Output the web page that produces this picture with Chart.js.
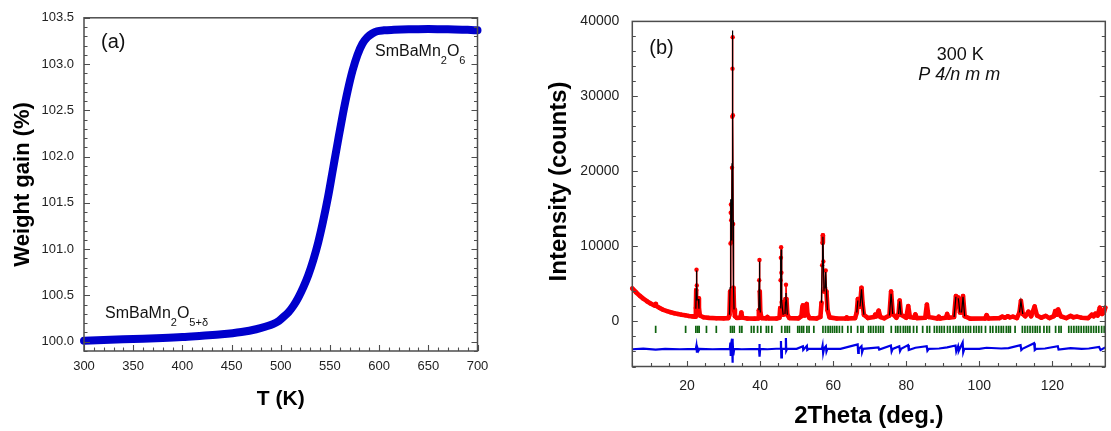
<!DOCTYPE html>
<html>
<head>
<meta charset="utf-8">
<script src="https://cdn.jsdelivr.net/npm/chart.js@4.4.1/dist/chart.umd.min.js"></script>
<style>
body{margin:0;background:#fff;}
#wrapA{position:absolute;left:0;top:0;width:540px;height:431px;}
#wrapB{position:absolute;left:540px;top:0;width:571px;height:431px;}
</style>
</head>
<body>
<div id="wrapA"><canvas id="chartTGA"></canvas></div>
<div id="wrapB"><canvas id="chartXRD"></canvas></div>
<script>
var FONT="'Liberation Sans', Arial, sans-serif";

// (a) weight gain vs temperature
var tempK=[300,320,350,380,400,420,440,460,475,485,492,498,503,508,513,518,523,528,533,538,543,548,553,558,563,568,573,578,583,588,593,598,605,615,630,650,670,690,700];
var weightGain=[100.01,100.02,100.03,100.04,100.05,100.065,100.08,100.105,100.135,100.165,100.19,100.225,100.27,100.32,100.39,100.48,100.59,100.72,100.88,101.07,101.30,101.56,101.86,102.16,102.45,102.71,102.93,103.10,103.22,103.29,103.33,103.355,103.365,103.37,103.375,103.38,103.375,103.37,103.365];
var wgTicks=[100.0,100.5,101.0,101.5,102.0,102.5,103.0,103.5];
var tempTicks=[300,350,400,450,500,550,600,650,700];

// (b) XRD pattern, observed / calculated on the same 2theta points
var twoTheta=[5.0,6.0,7.0,8.0,9.0,10.0,11.0,11.35,11.45,11.6,12.5,13.5,14.5,15.5,16.5,17.5,18.5,19.5,20.5,21.5,
22.2,22.4,22.5,22.58,22.66,22.78,22.95,23.1,23.25,23.5,24.5,26.0,28.0,30.0,31.3,31.6,31.78,31.88,31.95,32.0,
32.08,32.2,32.3,32.38,32.43,32.48,32.54,32.6,32.7,32.85,33.1,33.6,34.6,34.85,35.1,36.5,38.5,39.5,39.65,39.75,
39.82,39.9,40.05,40.4,41.7,42.0,42.3,44.5,45.3,45.5,45.6,45.68,45.74,45.82,45.95,46.3,46.8,46.95,47.08,47.2,
47.45,48.0,50.5,51.3,51.55,51.7,51.9,52.2,52.55,52.75,52.95,53.5,55.5,56.5,56.8,56.98,57.1,57.18,57.3,57.5,
57.75,57.95,58.15,58.45,59.0,61.0,63.4,63.7,64.0,66.0,66.45,66.75,66.95,67.35,67.75,68.0,68.4,69.5,71.2,71.5,
71.85,72.45,72.9,74.0,75.4,75.85,76.3,77.3,77.9,78.2,78.55,80.0,80.55,81.0,82.1,82.5,82.9,85.2,85.65,86.1,
88.5,88.9,89.3,90.8,91.2,91.6,93.1,93.6,93.9,94.25,94.7,95.15,95.55,96.0,97.5,101.6,102.0,102.5,105.5,106.3,
107.0,107.8,108.4,109.2,110.3,111.0,111.4,111.9,112.6,113.45,114.2,115.15,115.8,117.0,118.2,119.2,120.4,120.8,121.2,121.6,
122.3,123.8,125.0,125.8,126.8,128.0,129.8,130.8,131.3,131.8,132.4,133.0,133.6,134.1,134.5];
var yObs=[4400,3900,3450,3050,2700,2400,2150,2100,2350,2050,1800,1550,1380,1230,1100,1000,900,820,740,680,
640,1800,4200,6900,4800,2900,2400,3100,1800,800,560,480,440,420,450,900,4000,10400,14500,15600,
13500,10600,20500,27300,33700,37900,27500,13000,4500,1600,700,480,520,1200,520,400,380,420,1500,5500,
8200,4000,1200,450,420,600,420,400,500,1800,5500,8500,9900,6500,2600,900,1000,3000,4900,3000,
900,450,420,700,1900,2150,1200,800,2000,2350,1000,450,400,600,2500,7500,10500,11500,8000,4000,
4500,6800,4000,1500,550,400,400,550,400,450,1200,3000,2200,2000,4500,2600,900,450,600,900,
700,1450,600,420,800,4000,1000,500,1000,2800,900,500,2050,600,500,950,450,500,2250,600,
400,650,400,500,1000,500,600,3400,2500,3200,1200,1200,3400,700,380,400,850,400,450,650,
500,700,550,650,450,1200,2750,1000,700,1300,700,2000,800,500,750,450,700,1400,900,1600,
700,450,750,550,650,500,450,900,700,1050,800,1850,1000,1200,1850];
var yCalc=[4350,3900,3450,3050,2700,2400,2150,2100,2300,2050,1800,1550,1380,1230,1100,1000,900,820,740,680,
640,1700,4300,6800,5000,2800,2500,3000,1700,800,560,480,440,420,450,900,4500,11000,15000,16300,
13500,10800,21000,28000,34500,38800,28000,13500,4800,1600,700,480,520,1150,520,400,380,420,1500,5500,
8000,4200,1200,450,420,580,420,400,500,1800,5600,8700,9600,6800,2700,900,1000,2600,3800,2900,
900,450,420,700,1850,2100,1200,800,2000,2300,1000,450,400,600,2500,7400,10400,11300,8200,4000,
4400,6600,4100,1500,550,400,400,550,400,450,1200,2800,2200,2000,4300,2600,900,450,600,900,
700,1400,600,420,800,3700,1000,500,1000,2700,900,500,2000,600,500,950,450,500,2200,600,
400,650,400,500,1000,500,600,3300,2500,3100,1200,1200,3300,700,380,400,850,400,450,650,
500,700,550,650,450,1200,2700,1000,700,1250,700,1950,800,500,750,450,700,1350,900,1550,
700,450,750,550,650,500,450,900,700,1050,800,1800,1000,1200,1800];

// difference curve (shifted below zero in the plot)
var diffTheta=[5,8,11.4,14,18,22.4,22.55,22.7,22.9,23.1,23.4,27,31.7,31.85,31.95,32.05,32.3,32.42,32.52,32.65,
32.9,35,39.7,39.8,39.88,40.0,42,45.6,45.7,45.8,45.95,46.9,47.05,47.15,47.4,50,51.7,51.8,52.8,52.9,
53.3,56.9,57.1,57.25,57.5,58.0,58.15,58.4,62,66.7,66.85,67.0,67.75,67.9,68.2,72.4,72.6,75.8,76.0,76.3,
78.1,78.3,78.6,80.5,80.7,82.5,85.6,85.8,86.2,89,91.2,93.5,93.7,94.2,94.4,95.45,95.6,95.9,100,102,
106,108,111.3,111.5,111.8,115.0,115.2,115.6,118,121.5,121.7,125,128,130,132.8,133.2,134.5];
var yDiff=[-3700,-3620,-3750,-3650,-3700,-3650,-3250,-4150,-3600,-3900,-3650,-3700,-3650,-2800,-4600,-3000,-2300,-5500,-2600,-4500,
-3650,-3700,-3650,-3000,-4700,-3650,-3700,-3600,-2600,-4800,-3650,-3650,-2200,-3900,-3650,-3650,-3300,-3800,-3250,-3800,
-3650,-3650,-3200,-4200,-3600,-3300,-4000,-3650,-3650,-3050,-4200,-3650,-3300,-4100,-3650,-3450,-3750,-3200,-4000,-3650,
-3300,-3950,-3650,-3150,-3800,-3500,-3300,-3900,-3650,-3600,-3450,-3200,-4000,-3300,-3900,-2800,-4100,-3650,-3650,-3500,
-3600,-3550,-3150,-3800,-3650,-2900,-3800,-3650,-3600,-3300,-3750,-3550,-3650,-3600,-3400,-3800,-3450];

// Bragg reflection positions
var braggPos=[11.4,19.6,22.4,22.9,23.3,25.3,28.0,31.9,32.4,32.9,34.4,35.0,37.6,38.3,39.3,40.2,41.7,42.3,43.2,45.9,
46.8,47.4,48.0,50.3,50.8,51.4,51.9,52.8,53.4,54.7,57.2,57.9,58.6,59.2,59.8,60.4,61.0,61.7,62.5,64.0,
64.9,66.7,67.6,68.2,69.7,70.3,71.0,71.7,72.4,73.0,73.7,75.9,77.1,77.7,78.4,79.2,79.8,80.4,81.0,82.0,
82.9,84.5,85.7,86.4,87.7,88.4,89.1,89.7,90.4,91.3,92.0,92.9,93.6,94.3,94.8,95.6,96.3,97.0,97.6,98.5,
99.2,99.9,100.6,101.7,103.0,103.7,104.6,105.3,106.0,106.6,107.4,108.0,108.5,109.8,111.8,112.5,113.2,113.9,114.6,115.3,
115.9,116.6,117.7,118.5,119.2,120.9,121.8,122.4,124.5,125.2,125.9,126.6,127.2,127.9,128.6,129.3,129.9,130.6,131.3,132.0,
132.7,133.5,134.2];
var braggLevel=-1050;
var intTicks=[0,10000,20000,30000,40000];
var thetaTicks=[20,40,60,80,100,120];

function toPoints(xs,ys){
	var out=new Array();
	for(var i=0;i<xs.length;i++){
		out.push({x:xs[i],y:ys[i]});
	}
	return out;
}

function isMajor(v,list,step){
	for(var i=0;i<list.length;i++){
		if(Math.abs(list[i]-v)<step/10) return true;
	}
	return false;
}

// box frame with inward ticks on left, right and bottom
function frameTicks(minorX,minorY,majX,majY,lenMaj,lenMin){
	return {
		id:'frameTicks',
		afterDatasetsDraw:function(chart){
			var ctx=chart.ctx, a=chart.chartArea, sx=chart.scales.x, sy=chart.scales.y;
			ctx.save();
			ctx.strokeStyle='#4d4d4d';
			ctx.lineWidth=1.5;
			ctx.strokeRect(a.left,a.top,a.right-a.left,a.bottom-a.top);
			ctx.lineWidth=1.1;
			ctx.beginPath();
			var n, v, p, L;
			for(n=Math.ceil(sx.min/minorX-1e-6);n<=Math.floor(sx.max/minorX+1e-6);n++){
				v=n*minorX;
				p=Math.round(sx.getPixelForValue(v))+0.5;
				L=isMajor(v,majX,minorX)?lenMaj:lenMin;
				ctx.moveTo(p,a.bottom);ctx.lineTo(p,a.bottom-L);
			}
			for(n=Math.ceil(sy.min/minorY-1e-6);n<=Math.floor(sy.max/minorY+1e-6);n++){
				v=n*minorY;
				p=Math.round(sy.getPixelForValue(v))+0.5;
				L=isMajor(v,majY,minorY)?lenMaj:lenMin;
				ctx.moveTo(a.left,p);ctx.lineTo(a.left+L,p);
				ctx.moveTo(a.right,p);ctx.lineTo(a.right-L,p);
			}
			ctx.stroke();
			ctx.restore();
		}
	};
}

function drawChem(ctx,x,y,parts,size,subSize){
	for(var i=0;i<parts.length;i++){
		var sub=parts[i][1];
		ctx.font=(sub?subSize:size)+'px '+FONT;
		ctx.fillText(parts[i][0],x,sub?y+8:y);
		x+=ctx.measureText(parts[i][0]).width;
	}
}

var labelsA={
	id:'labelsA',
	afterDraw:function(chart){
		var ctx=chart.ctx, a=chart.chartArea;
		ctx.save();
		ctx.fillStyle='#111';
		ctx.textBaseline='alphabetic';
		ctx.textAlign='left';
		ctx.font='20px '+FONT;
		ctx.fillText('(a)',a.left+17,a.top+30);
		drawChem(ctx,a.left+291,a.top+38,[['SmBaMn',0],['2',1],['O',0],['6',1]],16,11);
		drawChem(ctx,a.left+21,a.top+300,[['SmBaMn',0],['2',1],['O',0],['5+δ',1]],16,11);
		ctx.restore();
	}
};

var labelsB={
	id:'labelsB',
	afterDraw:function(chart){
		var ctx=chart.ctx, a=chart.chartArea;
		ctx.save();
		ctx.fillStyle='#111';
		ctx.textBaseline='alphabetic';
		ctx.textAlign='left';
		ctx.font='20px '+FONT;
		ctx.fillText('(b)',a.left+17,a.top+33);
		ctx.textAlign='center';
		ctx.font='18px '+FONT;
		ctx.fillText('300 K',a.left+328,a.top+39);
		ctx.font='italic 18px '+FONT;
		ctx.fillText('P 4/n m m',a.left+327,a.top+59);
		// y axis title, sits a bit above the middle of the axis
		ctx.fillStyle='#000';
		ctx.font='bold 24px '+FONT;
		ctx.textBaseline='middle';
		ctx.translate(19,a.top+160);
		ctx.rotate(-Math.PI/2);
		ctx.fillText('Intensity (counts)',0,0);
		ctx.restore();
	}
};

Chart.defaults.font.family=FONT;
Chart.defaults.color='#222';

new Chart(document.getElementById('chartTGA'),{
	type:'line',
	data:{
		datasets:[{
			data:toPoints(tempK,weightGain),
			borderColor:'#0000cc',
			borderWidth:8,
			borderCapStyle:'round',
			borderJoinStyle:'round',
			cubicInterpolationMode:'monotone',
			pointRadius:0,
			clip:8
		}]
	},
	options:{
		responsive:true,
		maintainAspectRatio:false,
		animation:false,
		events:[],
		layout:{padding:{top:16,right:62.5,left:0,bottom:0}},
		plugins:{legend:{display:false},tooltip:{enabled:false}},
		scales:{
			x:{
				type:'linear',min:300,max:700,
				grid:{display:false,drawTicks:false},
				border:{display:false},
				afterBuildTicks:function(s){ s.ticks=tempTicks.map(function(v){return {value:v};}); },
				afterFit:function(s){ s.height=80; },
				ticks:{font:{size:13},padding:8,color:'#222',callback:function(v){return String(v);}},
				title:{display:true,text:'T (K)',color:'#000',font:{size:21,weight:'bold'},padding:{top:0,bottom:19}}
			},
			y:{
				type:'linear',min:99.9,max:103.5,
				grid:{display:false,drawTicks:false},
				border:{display:false},
				afterBuildTicks:function(s){ s.ticks=wgTicks.map(function(v){return {value:v};}); },
				afterFit:function(s){ s.width=84; },
				ticks:{font:{size:13},padding:10,color:'#222',callback:function(v){return v.toFixed(1);}},
				title:{display:true,text:'Weight gain (%)',color:'#000',font:{size:22,weight:'bold'},padding:{top:10,bottom:0}}
			}
		}
	},
	plugins:[frameTicks(10,0.1,tempTicks,wgTicks,6,3.5),labelsA]
});

new Chart(document.getElementById('chartXRD'),{
	type:'line',
	data:{
		datasets:[{
			label:'calc',
			order:0,
			data:toPoints(twoTheta,yCalc),
			borderWidth:1.2,
			borderColor:'#000',
			// only the peak flanks show through the observed points
			segment:{borderColor:function(c){
				var hi=Math.max(c.p0.parsed.y,c.p1.parsed.y), dy=Math.abs(c.p1.parsed.y-c.p0.parsed.y);
				return (hi>2500 && dy>900)?'#000':'rgba(0,0,0,0)';
			}},
			pointRadius:0,
			clip:4
		},{
			label:'obs',
			order:1,
			data:toPoints(twoTheta,yObs),
			borderColor:'#ff0000',
			borderWidth:4.6,
			borderJoinStyle:'round',
			borderCapStyle:'round',
			segment:{borderWidth:function(c){
				var hi=Math.max(c.p0.parsed.y,c.p1.parsed.y), dy=Math.abs(c.p1.parsed.y-c.p0.parsed.y);
				return (hi>4500 && dy>1000)?1.6:4.6;
			}},
			pointRadius:2.2,
			pointBorderWidth:0,
			pointBackgroundColor:'#ff0000',
			clip:4
		},{
			label:'diff',
			order:2,
			data:toPoints(diffTheta,yDiff),
			borderColor:'#0000e6',
			borderWidth:2.2,
			pointRadius:0,
			clip:4
		},{
			label:'bragg',
			order:3,
			data:braggPos.map(function(p){return {x:p,y:braggLevel};}),
			showLine:false,
			pointStyle:'line',
			rotation:90,
			pointRadius:3.6,
			pointBorderWidth:1.7,
			pointBorderColor:'#0f640f',
			clip:4
		}]
	},
	options:{
		responsive:true,
		maintainAspectRatio:false,
		animation:false,
		events:[],
		layout:{padding:{top:20,right:2,left:0,bottom:0}},
		plugins:{legend:{display:false},tooltip:{enabled:false}},
		scales:{
			x:{
				type:'linear',min:5,max:134.5,
				grid:{display:false,drawTicks:false},
				border:{display:false},
				afterBuildTicks:function(s){ s.ticks=thetaTicks.map(function(v){return {value:v};}); },
				afterFit:function(s){ s.height=64.5; },
				ticks:{font:{size:14},padding:11,color:'#222',callback:function(v){return String(v);}},
				title:{display:true,text:'2Theta (deg.)',color:'#000',font:{size:24,weight:'bold'},padding:{top:0,bottom:0}}
			},
			y:{
				type:'linear',min:-6000,max:40000,
				grid:{display:false,drawTicks:false},
				border:{display:false},
				afterBuildTicks:function(s){ s.ticks=intTicks.map(function(v){return {value:v};}); },
				afterFit:function(s){ s.width=92.3; },
				ticks:{font:{size:14},padding:13,color:'#222',callback:function(v){return String(v);}}
			}
		}
	},
	plugins:[frameTicks(5,2000,thetaTicks.concat([0,140]),intTicks.concat([-10000]),5.5,3.5),labelsB]
});
</script>
</body>
</html>
